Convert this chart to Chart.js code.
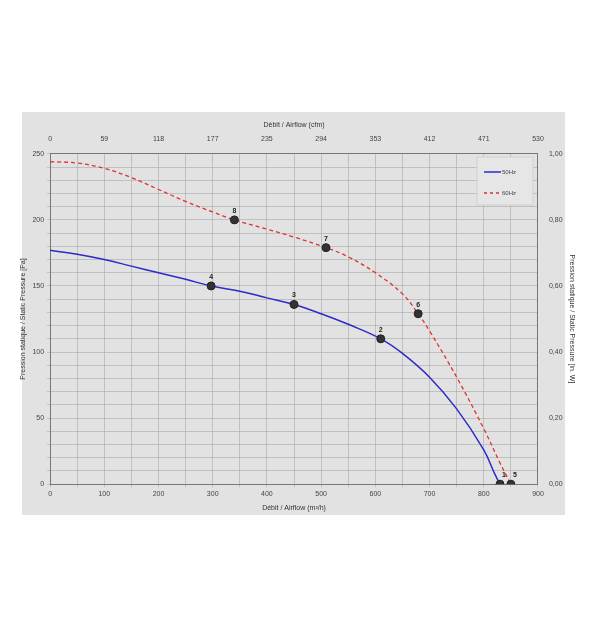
<!DOCTYPE html>
<html><head><meta charset="utf-8">
<script src="https://cdn.jsdelivr.net/npm/chart.js@4/dist/chart.umd.min.js"></script>
<style>html,body{margin:0;background:#fff}#wrap{width:600px;height:631px}</style>
</head><body><div id="wrap"><canvas id="c"></canvas></div>
<script>
const curve50 = [[0,177],[50,174],[100,170],[150,165],[200,160],[250,155],[297,150],[350,146],[400,141],[450,136],[500,129],[550,121],[610,110],[650,99],[700,81],[750,57],[800,26],[820,8],[830,0]];
const curve60 = [[0,244],[50,243],[100,239],[150,232],[200,223],[250,214],[300,206],[340,200],[400,193],[450,187],[509,179],[550,172],[600,160],[650,144],[679,129],[700,116],[750,81],[800,42],[830,16],[850,0]];
const points50 = [[830,0,'1'],[610,110,'2'],[450,136,'3'],[297,150,'4']];
const points60 = [[850,0,'5'],[679,129,'6'],[509,179,'7'],[340,200,'8']];
const cfmLabels = ['0','59','118','177','235','294','353','412','471','530'];
const inwLabels = ['0,00','0,20','0,40','0,60','0,80','1,00'];

const xy = a => a.map(p => ({x: p[0], y: p[1]}));
const tickFont = {family: 'Liberation Sans', size: 7};

const panel = {
  id: 'panel',
  beforeDraw(chart) {
    const ctx = chart.ctx;
    ctx.save();
    ctx.fillStyle = '#e2e2e2';
    ctx.fillRect(22, 112, 543, 403);
    ctx.restore();
  },
  afterDatasetsDraw(chart) {
    const ctx = chart.ctx, x = chart.scales.x, y = chart.scales.y;
    ctx.save();
    ctx.font = 'bold 7px Liberation Sans';
    ctx.fillStyle = '#222';
    ctx.textAlign = 'center';
    [...points50, ...points60].forEach(p => {
      ctx.fillText(p[2], x.getPixelForValue(p[0]) + (p[1] === 0 ? 4 : 0), y.getPixelForValue(p[1]) - 7);
    });
    // legend
    ctx.fillStyle = '#e6e6e6';
    ctx.strokeStyle = '#d0d0d0';
    ctx.fillRect(477, 157, 56, 48);
    ctx.strokeRect(477, 157, 56, 48);
    ctx.lineWidth = 1.5;
    ctx.strokeStyle = '#2b2bc8';
    ctx.beginPath(); ctx.moveTo(484, 172); ctx.lineTo(501, 172); ctx.stroke();
    ctx.strokeStyle = '#e03030';
    ctx.setLineDash([3, 3]);
    ctx.beginPath(); ctx.moveTo(484, 193); ctx.lineTo(501, 193); ctx.stroke();
    ctx.setLineDash([]);
    ctx.font = '6px Liberation Sans';
    ctx.fillStyle = '#444';
    ctx.textAlign = 'left';
    ctx.fillText('50Hz', 502, 174);
    ctx.fillText('60Hz', 502, 195);
    ctx.restore();
  }
};

new Chart(document.getElementById('c'), {
  type: 'scatter',
  data: {
    datasets: [
      {data: xy(curve50), order: 2, showLine: true, borderColor: '#2b2bc8', borderWidth: 1.5, pointRadius: 0, tension: 0.4},
      {data: xy(curve60), order: 1, showLine: true, borderColor: '#e03030', borderWidth: 1.3, borderDash: [4, 3], pointRadius: 0, tension: 0.4},
      {data: xy(points50).concat(xy(points60)), order: 0, pointRadius: 4, pointBackgroundColor: '#333', pointBorderColor: '#222'}
    ]
  },
  plugins: [panel],
  options: {
    responsive: true, maintainAspectRatio: false, animation: false,
    layout: {padding: {left: 17, top: 119, right: 22, bottom: 117}},
    plugins: {legend: {display: false}, tooltip: {enabled: false}},
    scales: {
      x: {type: 'linear', min: 0, max: 900, position: 'bottom',
        ticks: {stepSize: 50, font: tickFont, color: '#444', callback: v => v % 100 === 0 ? v : ''},
        grid: {color: '#aaa', lineWidth: 0.6, tickLength: 3},
        border: {color: '#777'},
        title: {display: true, text: 'Débit / Airflow (m³/h)', font: tickFont, color: '#333', padding: 2}},
      x2: {type: 'linear', min: 0, max: 900, position: 'top',
        ticks: {stepSize: 100, font: tickFont, color: '#444', callback: v => cfmLabels[v / 100]},
        grid: {display: false},
        border: {color: '#777'},
        title: {display: true, text: 'Débit / Airflow (cfm)', font: tickFont, color: '#333', padding: 2}},
      y: {min: 0, max: 250, position: 'left',
        ticks: {stepSize: 10, font: tickFont, color: '#444', callback: v => v % 50 === 0 ? v : ''},
        grid: {color: '#aaa', lineWidth: 0.6, tickLength: 3},
        border: {color: '#777'},
        title: {display: true, text: 'Pression statique / Static Pressure [Pa]', font: tickFont, color: '#333', padding: 2}},
      y2: {min: 0, max: 1, position: 'right',
        ticks: {stepSize: 0.2, font: tickFont, color: '#444', callback: (v, i) => inwLabels[i]},
        grid: {display: false},
        border: {color: '#777'},
        title: {display: true, text: 'Pression statique / Static Pressure [in. W]', font: tickFont, color: '#333', padding: 2}}
    }
  }
});
</script></body></html>
